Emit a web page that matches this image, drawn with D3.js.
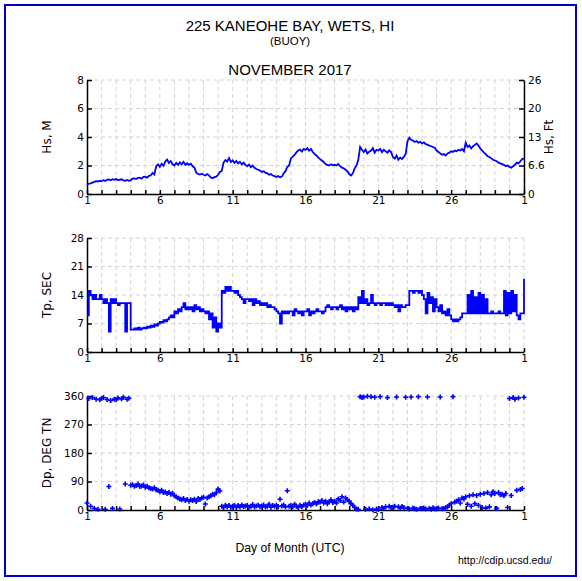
<!DOCTYPE html>
<html><head><meta charset="utf-8">
<script src="https://cdn.jsdelivr.net/npm/d3@7/dist/d3.min.js"></script>
<style>body{margin:0;background:#fff}svg{display:block}</style>
</head><body>
<script>
// ---- Data (3-hourly samples, Nov 1 00:00 to Dec 1 00:00 UTC) ----
const title = "225 KANEOHE BAY, WETS, HI";
const subtitle = "(BUOY)";
const monthTitle = "NOVEMBER 2017";
const dayTicks = [1, 6, 11, 16, 21, 26, 31];
const dayTickLabels = ["1", "6", "11", "16", "21", "26", "1"];
const hsTicks = [0, 2, 4, 6, 8];
const ftTicks = [0, 6.56, 13.12, 19.69, 26.25];
const ftTickLabels = ["0", "6.6", "13", "20", "26"];
const tpTicks = [0, 7, 14, 21, 28];
const dpTicks = [0, 90, 180, 270, 360];

const hs = [
 0.65,0.72,0.75,0.80,0.85,0.90,0.88,0.92,
 0.90,0.97,0.92,1.00,1.02,0.96,1.04,1.00,
 1.05,0.98,1.00,1.03,0.95,0.92,0.98,0.93,
 0.95,1.08,1.10,1.05,1.14,1.15,1.08,1.20,
 1.22,1.15,1.28,1.30,1.48,1.36,1.95,2.08,
 1.90,2.12,1.98,2.28,2.42,2.18,2.32,2.08,
 2.00,2.18,2.04,2.22,2.08,2.26,2.04,2.16,
 2.05,2.12,1.94,1.86,1.50,1.40,1.36,1.42,
 1.35,1.30,1.40,1.30,1.15,1.10,1.18,1.22,
 1.35,1.55,1.62,2.20,2.38,2.28,2.52,2.24,
 2.36,2.18,2.32,2.14,2.26,2.08,2.20,2.04,
 1.95,2.06,1.88,2.00,1.84,1.75,1.70,1.64,
 1.55,1.60,1.50,1.45,1.35,1.40,1.30,1.25,
 1.20,1.26,1.18,1.22,1.45,1.60,1.90,2.00,
 2.50,2.62,2.75,2.92,3.05,3.12,2.98,3.16,
 3.10,3.22,3.04,3.16,2.95,2.80,2.70,2.55,
 2.45,2.35,2.25,2.10,2.05,2.00,2.08,2.02,
 2.05,2.00,2.10,1.95,1.85,1.80,1.70,1.60,
 1.40,1.30,1.45,1.80,2.00,2.40,3.30,3.10,
 2.95,3.12,2.84,2.96,3.05,3.22,2.90,3.10,
 3.05,3.16,2.94,3.10,3.00,2.90,3.06,2.95,
 2.60,2.48,2.70,2.40,2.56,2.45,2.60,2.80,
 3.70,3.95,3.80,3.75,3.65,3.72,3.60,3.66,
 3.55,3.62,3.50,3.46,3.40,3.35,3.30,3.25,
 3.05,2.95,2.85,2.75,2.80,2.70,2.85,2.90,
 3.00,2.95,3.05,3.00,3.10,3.05,3.15,3.00,
 3.60,3.30,3.40,3.20,3.35,3.45,3.55,3.40,
 3.20,3.05,2.90,2.80,2.65,2.60,2.50,2.40,
 2.35,2.30,2.20,2.15,2.10,2.05,1.95,2.00,
 1.90,1.85,1.95,2.05,2.20,2.15,2.30,2.45,
 2.50
];

const tp = [
 9,15,14,13,14,13,13,14,
 13,12,13,12,5,13,12,13,
 12,11.5,12,12,12,5,12,12,
 5.5,5.5,5.8,5.5,6,5.5,5.8,6,
 5.8,6.2,6,6.5,6.2,6.8,6.5,7,
 7.4,7.2,7.8,7.5,8,8.5,9,8.5,
 10,9.5,10.5,10,11,12,10.5,11,
 10.5,11,10,11.5,10.5,11,10,10.5,
 10,9.5,10,8,9.5,6,8.5,5,
 7,6,15,14.5,16,15,16,15,
 15,14.5,15,14,13.5,13,12,13,
 13,12.5,13,11.5,13,12,12.5,11.5,
 12,11.5,12,11,11.5,11,11,10.5,
 10,9.5,7,10,9.5,10,9.5,10,
 10,9,10.5,10,9.5,10,9,10,
 10,10.5,9,10,9.5,10,10.5,10,
 10,9.5,10,11,11.5,11,10.5,11,
 11,10.5,11,11.5,10.5,11,10,11,
 10.5,11,10,11,10.5,13.5,12,15,
 12,13,11.5,12,14,12,11.5,12,
 12,11.5,12,12,11.5,12,11.5,12,
 11.5,11,11.5,10,11.5,11,11,11.5,
 11.5,15,15,14.5,15,15,14.5,15,
 14,13,9.5,14.5,12,13.5,10,13,
 11,10,11.5,9.5,10,9,10.5,9,
 8,7.5,8,7.5,8,8.5,9.5,9.5,
 9.5,14,9.5,15,9.5,13.5,9.5,14.5,
 9.5,14,9.5,13,9.5,9.5,10,9.5,
 9.5,9.5,10,9.5,9.5,15,9,14.5,
 9.5,15,10,14,9,8,9.5,9.5,
 18
];

const dp = [
 22,352,12,355,5,350,2,348,
 352,355,2,349,74,346,5,350,
 348,354,3,351,356,82,350,353,
 78,80,75,77,82,74,76,79,
 72,75,70,68,66,70,64,62,
 58,62,55,57,52,55,50,53,
 45,42,38,35,32,36,30,33,
 28,32,30,34,27,36,33,38,
 40,19,38,42,45,50,48,55,
 66,60,12,8,15,10,14,9,
 12,15,8,14,10,16,11,13,
 14,9,12,17,10,13,15,11,
 13,16,10,12,18,9,14,12,
 15,11,34,13,16,10,61,12,
 14,10,18,12,8,15,11,16,
 18,14,22,16,20,24,19,26,
 25,30,22,28,20,26,32,24,
 28,22,35,30,42,25,38,32,
 28,20,15,8,3,2,358,355,
 357,2,359,4,358,1,356,3,
 2,358,8,5,10,355,12,8,
 9,12,357,10,6,11,8,356,
 5,3,357,6,4,2,358,5,
 4,6,3,357,5,2,7,4,
 3,6,357,4,5,8,10,15,
 20,358,25,28,32,22,38,35,
 42,18,45,12,48,20,46,15,
 50,8,52,6,55,10,48,58,
 52,5,55,48,50,45,52,8,
 352,46,355,350,62,354,65,68,
 356
];
const samplesPerDay = 8;

// ---- Drawing ----
const W = 582, H = 581;
const svg = d3.select("body").append("svg").attr("width", W).attr("height", H);
const blue = "#0000ff";
const fontNum = "DejaVu Sans, sans-serif";
const fontTitle = "Liberation Sans, Arial, sans-serif";
const tickFont = 10.5;

svg.append("rect").attr("x", 5).attr("y", 5).attr("width", 571).attr("height", 571)
  .attr("fill", "none").attr("stroke", "#0000cc").attr("stroke-width", 2);

svg.append("text").attr("x", 290).attr("y", 31).attr("text-anchor", "middle")
  .attr("font-family", fontTitle).attr("font-size", 15).text(title);
svg.append("text").attr("x", 290).attr("y", 45).attr("text-anchor", "middle")
  .attr("font-family", fontTitle).attr("font-size", 11.5).text(subtitle);
svg.append("text").attr("x", 290).attr("y", 75).attr("text-anchor", "middle")
  .attr("font-family", fontTitle).attr("font-size", 15).text(monthTitle);
svg.append("text").attr("x", 290).attr("y", 552).attr("text-anchor", "middle")
  .attr("font-family", fontTitle).attr("font-size", 12.2).text("Day of Month (UTC)");
svg.append("text").attr("x", 552).attr("y", 564).attr("text-anchor", "end")
  .attr("font-family", fontTitle).attr("font-size", 10.5).text("http://cdip.ucsd.edu/");

const x = d3.scaleLinear().domain([1, 31]).range([87, 524]);
const days = d3.range(1, 32);
const t = i => 1 + i / samplesPerDay;

function panel(top, bottom, domain, ticks, label) {
  const y = d3.scaleLinear().domain(domain).range([bottom, top]);
  const g = svg.append("g");
  g.append("g").selectAll("line").data(days.slice(1)).join("line")
    .attr("x1", d => x(d)).attr("x2", d => x(d)).attr("y1", top).attr("y2", bottom)
    .attr("stroke", "#d4d4d4").attr("stroke-dasharray", "4,3").attr("stroke-width", 1);
  g.append("g").selectAll("line").data(ticks.slice(1)).join("line")
    .attr("x1", x(1)).attr("x2", x(31)).attr("y1", d => y(d)).attr("y2", d => y(d))
    .attr("stroke", "#d4d4d4").attr("stroke-dasharray", "4,3").attr("stroke-width", 1);
  const ax = d3.axisLeft(y).tickValues(ticks).tickSizeInner(-5).tickSizeOuter(0).tickPadding(3);
  const ga = g.append("g").attr("transform", `translate(${x(1)},0)`).call(ax);
  ga.selectAll("text").attr("font-family", fontNum).attr("font-size", tickFont).attr("fill", "#000");
  ga.selectAll("line,path").attr("stroke", "#000").attr("stroke-width", 1.5);
  const bx = d3.axisBottom(x).tickValues(days).tickSizeInner(-4).tickSizeOuter(0).tickPadding(3)
    .tickFormat(d => { const k = dayTicks.indexOf(d); return k >= 0 ? dayTickLabels[k] : ""; });
  const gb = g.append("g").attr("transform", `translate(0,${bottom})`).call(bx);
  gb.selectAll("text").attr("font-family", fontNum).attr("font-size", tickFont).attr("fill", "#000");
  gb.selectAll("line,path").attr("stroke", "#000").attr("stroke-width", 1.5);
  svg.append("text").attr("transform", `translate(51,${(top + bottom) / 2}) rotate(-90)`)
    .attr("text-anchor", "middle").attr("font-family", fontNum).attr("font-size", 12).text(label);
  return y;
}

// Hs panel
const yHs = panel(80, 194, [0, 8], hsTicks, "Hs, M");
const yFt = d3.scaleLinear().domain([0, 8 * 3.28084]).range([194, 80]);
const ar = d3.axisRight(yFt).tickValues(ftTicks).tickSizeInner(-5).tickSizeOuter(0).tickPadding(4)
  .tickFormat((d, i) => ftTickLabels[i]);
const gr = svg.append("g").attr("transform", `translate(${x(31)},0)`).call(ar);
gr.selectAll("text").attr("font-family", fontNum).attr("font-size", tickFont).attr("fill", "#000");
gr.selectAll("line,path").attr("stroke", "#000").attr("stroke-width", 1.5);
svg.append("text").attr("transform", `translate(553,137) rotate(-90)`)
  .attr("text-anchor", "middle").attr("font-family", fontNum).attr("font-size", 12).text("Hs, Ft");

svg.append("path").datum(hs)
  .attr("d", d3.line().x((d, i) => x(t(i))).y(d => yHs(d)))
  .attr("fill", "none").attr("stroke", blue).attr("stroke-width", 1.8);

// Tp panel
const yTp = panel(238, 352, [0, 28], tpTicks, "Tp, SEC");
svg.append("path").datum(tp)
  .attr("d", d3.line().curve(d3.curveStepAfter).x((d, i) => x(t(i))).y(d => yTp(d)))
  .attr("fill", "none").attr("stroke", blue).attr("stroke-width", 1.8);

// Dp panel
const yDp = panel(396, 510, [0, 360], dpTicks, "Dp, DEG TN");
svg.append("g").selectAll("path").data(dp).join("path")
  .attr("transform", (d, i) => `translate(${x(t(i))},${yDp(d)})`)
  .attr("d", "M-2.5,0H2.5M0,-2.5V2.5")
  .attr("stroke", blue).attr("stroke-width", 1.6).attr("fill", "none");
</script>
</body></html>
